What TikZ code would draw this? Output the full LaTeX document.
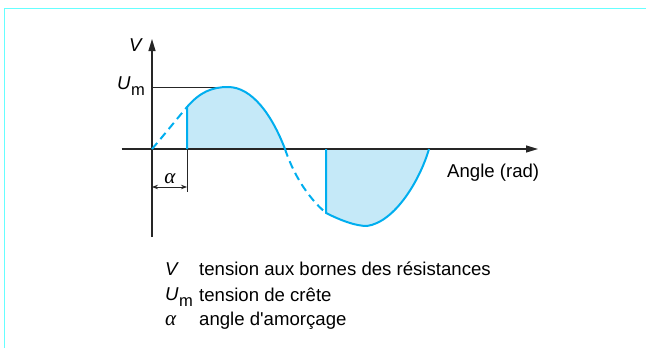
\documentclass[tikz,border=0pt]{standalone}
\usepackage{fontspec}
\setmainfont{Liberation Sans}
\newfontfamily\alfont{Liberation Serif}
\usetikzlibrary{arrows.meta}
\definecolor{framecol}{HTML}{66FFFF}
\definecolor{wave}{HTML}{00AEEF}
\definecolor{wavefill}{HTML}{C5E9F8}
\newcommand{\alsym}{{\alfont\itshape\fontsize{21}{24}\selectfont α}}
\newcommand{\umsym}{\textit{U}\kern0.5pt\raisebox{-6pt}{\fontsize{16.5}{18}\selectfont m}}
\begin{document}
\begin{tikzpicture}[x=1pt,y=-1pt,
  axis/.style={line width=1.2pt, draw=black!85},
  thinline/.style={line width=0.8pt, draw=black!85},
  wavesolid/.style={draw=wave,line width=2pt},
  wavedash/.style={draw=wave,line width=2pt,dash pattern=on 8pt off 5pt},
  lbl/.style={inner sep=0pt, font=\fontsize{18.6}{22}\selectfont},
  ]
\useasboundingbox (0,0) rectangle (646,348);
\draw[framecol, line width=1.5pt] (4.5,348) -- (4.5,8.5) -- (646,8.5);
% key points
\coordinate (O) at (152,149);
\coordinate (A) at (187,107);
\coordinate (A0) at (187,149);
\coordinate (Abot) at (187,192);
\coordinate (P) at (228,87);
\coordinate (Uy) at (152,87);
\coordinate (Z) at (285,149);
\coordinate (B) at (326,213);
\coordinate (B0) at (326,149);
\coordinate (M) at (367,226);
\coordinate (E) at (429,149);
\coordinate (xs) at (121.5,149);
\coordinate (xe) at (538,149);
\coordinate (ys) at (152,237);
\coordinate (ye) at (152,39);
\coordinate (al1) at (152,187);
\coordinate (al2) at (187,187);
% fills
\fill[wavefill] (A0) -- (A) .. controls (200,92) and (212,87) .. (P) .. controls (252,87) and (272,115) .. (Z) -- cycle;
\fill[wavefill] (B0) -- (B) .. controls (340,220) and (355,226) .. (M) .. controls (395,222) and (420,180) .. (E) -- cycle;
% axes
\draw[axis,-{Triangle[length=12pt,width=7pt]}] (xs) -- (xe);
\draw[axis,-{Triangle[length=12pt,width=7pt]}] (ys) -- (ye);
\draw[thinline] (Uy) -- (P);
\draw[thinline] (A0) -- (Abot);
\draw[thinline,{Stealth[length=6pt,width=4.5pt]}-{Stealth[length=6pt,width=4.5pt]}] (al1) -- (al2);
% wave
\draw[wavedash] (O) .. controls (164,135) and (176,120) .. (A);
\draw[wavesolid] (A0) -- (A) .. controls (200,92) and (212,87) .. (P) .. controls (252,87) and (272,115) .. (Z);
\draw[wavedash] (Z) .. controls (292,170) and (305,195) .. (B);
\draw[wavesolid] (B0) -- (B) .. controls (340,220) and (355,226) .. (M) .. controls (395,222) and (420,180) .. (E);
% labels
\node[lbl, anchor=base] (vlab) at (136,52) {\textit{V}};
\node[lbl, anchor=base east] (umlab) at (145,89) {\umsym};
\node[lbl, anchor=base west] (ang) at (447,177) {Angle (rad)};
\node[lbl, anchor=base] (al) at (170,183) {\alsym};
% legend
\node[lbl, anchor=base west] (l1s) at (165,275) {\textit{V}};
\node[lbl, anchor=base west] (l1t) at (199,275) {tension aux bornes des résistances};
\node[lbl, anchor=base west] (l2s) at (165,300) {\umsym};
\node[lbl, anchor=base west] (l2t) at (199,301) {tension de crête};
\node[lbl, anchor=base west] (l3s) at (165,325) {\alsym};
\node[lbl, anchor=base west] (l3t) at (199,325) {angle d\textquotesingle amorçage};
\end{tikzpicture}
\end{document}
